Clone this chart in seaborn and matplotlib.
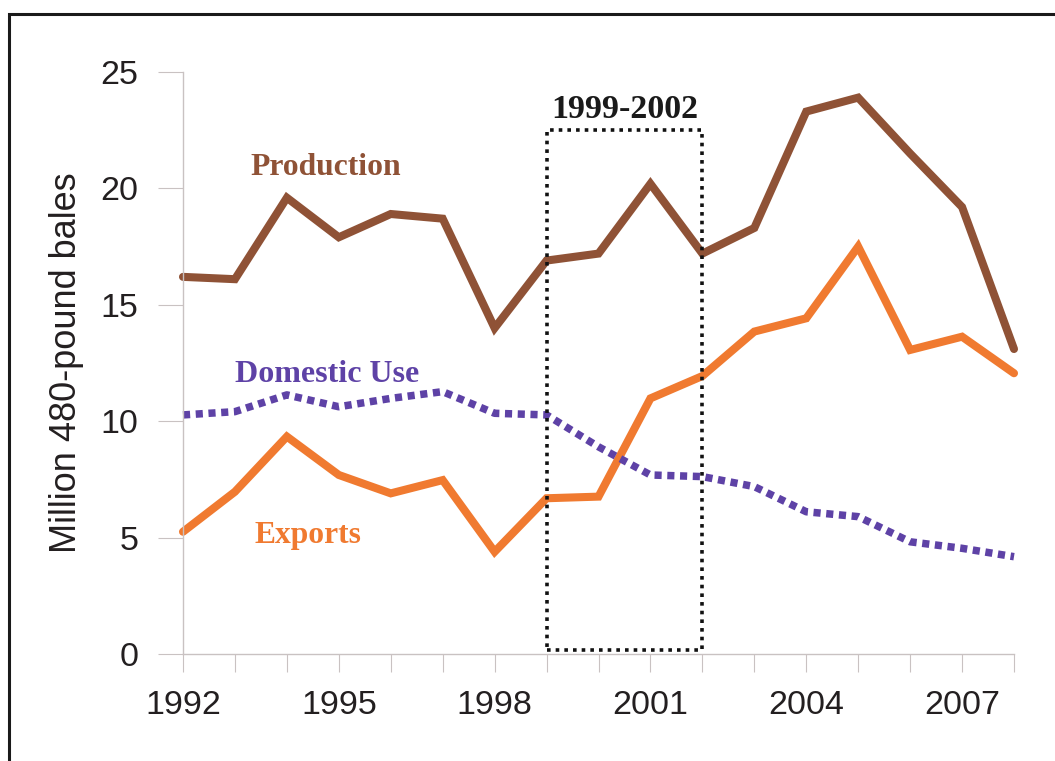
import matplotlib
matplotlib.use("Agg")
import matplotlib.pyplot as plt
from matplotlib.patches import Rectangle
import seaborn as sns
import pandas as pd

years = list(range(1992, 2009))
production = [16.2, 16.1, 19.6, 17.9, 18.9, 18.7, 14.0, 16.9, 17.2, 20.2, 17.2, 18.3, 23.3, 23.9, 21.5, 19.2, 13.1]
exports = [5.25, 6.97, 9.34, 7.69, 6.9, 7.47, 4.39, 6.69, 6.76, 10.98, 11.94, 13.85, 14.42, 17.5, 13.06, 13.63, 12.06]
domestic_use = [10.27, 10.41, 11.13, 10.62, 10.98, 11.27, 10.34, 10.27, 8.9, 7.69, 7.62, 7.19, 6.11, 5.9, 4.82, 4.54, 4.18]
tick_years = [1992, 1995, 1998, 2001, 2004, 2007]
highlight = (1999, 2002)
highlight_label = "1999-2002"

C_PROD = "#8F5236"
C_EXP = "#F07A30"
C_DOM = "#5E42A6"
C_AX = "#C9C2C2"
C_TXT = "#231F20"

sns.set_style("white")
plt.rcParams["font.family"] = ["Liberation Sans", "DejaVu Sans"]

df = pd.DataFrame({"year": years, "Production": production,
                   "Exports": exports, "Domestic Use": domestic_use})

fig = plt.figure(figsize=(10.55, 7.61), dpi=100)
ax = fig.add_axes([183 / 1055, 107 / 761, 831 / 1055, 582 / 761])

sns.lineplot(data=df, x="year", y="Production", ax=ax, color=C_PROD,
             linewidth=5.8, clip_on=False, solid_joinstyle="miter")
sns.lineplot(data=df, x="year", y="Exports", ax=ax, color=C_EXP,
             linewidth=5.8, clip_on=False, solid_joinstyle="miter")
sns.lineplot(data=df, x="year", y="Domestic Use", ax=ax, color=C_DOM,
             linewidth=5.4, clip_on=False, dashes=False)
ax.lines[-1].set_linestyle((0, (0.95, 0.75)))
ax.lines[-1].set_dash_capstyle("butt")

ax.set_xlim(1992, 2008)
ax.set_ylim(0, 25)
ax.set_xticks(years)
ax.set_xticklabels([str(y) if y in tick_years else "" for y in years])
ax.set_yticks([0, 5, 10, 15, 20, 25])

for s in ["top", "right"]:
    ax.spines[s].set_visible(False)
for s in ["left", "bottom"]:
    ax.spines[s].set_color(C_AX)
    ax.spines[s].set_linewidth(1.0)

ax.tick_params(axis="y", length=18, width=0.8, color=C_AX, direction="out",
               labelsize=24.5, labelcolor=C_TXT, pad=14, left=True)
ax.tick_params(axis="x", length=13, width=0.8, color=C_AX, direction="out",
               labelsize=24.5, labelcolor=C_TXT, pad=13, bottom=True)

ax.set_xlabel("")
ax.set_ylabel("Million 480-pound bales", fontsize=26, color=C_TXT)
ax.yaxis.set_label_coords(-0.119, 0.5)

# highlight box
rect = Rectangle((highlight[0], 0.17), highlight[1] - highlight[0], 22.35,
                 fill=False, edgecolor="#111111", linewidth=2.6,
                 linestyle=(0, (1, 1.4)), clip_on=False, zorder=5)
ax.add_patch(rect)

serif = ["Liberation Serif", "DejaVu Serif"]
ax.text((highlight[0] + highlight[1]) / 2, 23.4, highlight_label, ha="center",
        va="center", fontsize=24.5, fontweight="bold", family=serif, color="#1a1a1a")
ax.text(1994.74, 20.9, "Production", ha="center", va="center", fontsize=22.8,
        fontweight="bold", family=serif, color=C_PROD)
ax.text(1994.78, 12.0, "Domestic Use", ha="center", va="center", fontsize=23,
        fontweight="bold", family=serif, color=C_DOM)
ax.text(1994.4, 5.1, "Exports", ha="center", va="center", fontsize=22.7,
        fontweight="bold", family=serif, color=C_EXP)

# outer frame
frame = Rectangle((8.5 / 1055, -0.2), 1.2, (761 - 13.5) / 761 + 0.2,
                  transform=fig.transFigure, fill=False, edgecolor="#1a1a1a",
                  linewidth=2.2)
fig.add_artist(frame)

fig.savefig("out.png", dpi=100)
